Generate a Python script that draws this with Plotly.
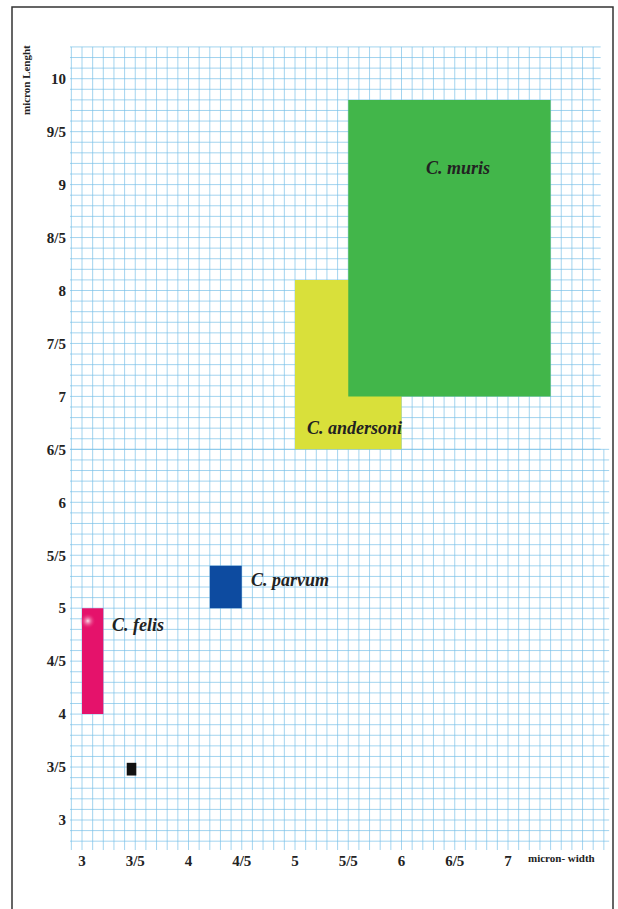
import numpy as np
import plotly.graph_objects as go

# ---------------- data ----------------
species = ["C. andersoni", "C. muris", "C. parvum", "C. felis", "unlabelled"]
width_min = [5.0, 5.5, 4.2, 3.0, 3.42]
width_max = [6.0, 7.4, 4.5, 3.2, 3.51]
length_min = [6.5, 7.0, 5.0, 4.0, 3.42]
length_max = [8.1, 9.8, 5.4, 5.0, 3.54]

x_tick_vals = [3, 3.5, 4, 4.5, 5, 5.5, 6, 6.5, 7]
x_tick_text = ["3", "3/5", "4", "4/5", "5", "5/5", "6", "6/5", "7"]
y_tick_vals = [3, 3.5, 4, 4.5, 5, 5.5, 6, 6.5, 7, 7.5, 8, 8.5, 9, 9.5, 10]
y_tick_text = ["3", "3/5", "4", "4/5", "5", "5/5", "6", "6/5", "7", "7/5",
               "8", "8/5", "9", "9/5", "10"]

# ---------------- styles ----------------
colors = {"C. andersoni": "#D9E03A", "C. muris": "#42B64A",
          "C. parvum": "#0D4BA0", "C. felis": "#E5126B", "unlabelled": "#111111"}
# label placement relative to each box: (anchor x, dx, anchor y, dy, xanchor)
label_place = {
    "C. muris": ("center", 0.08, "top", -0.64, "center"),
    "C. andersoni": ("x0", 0.09, "y0", 0.20, "left"),
    "C. parvum": ("x1", 0.07, "mid", 0.07, "left"),
    "C. felis": ("x1", 0.06, "y1", -0.16, "left"),
}

W, H = 618, 909
L, R, T, B = 70, 6, 40, 59
PXX, PXY = 106.5, 105.9          # pixels per micron
X3, Y3 = 82, 820                 # pixel position of value 3
pw, ph = W - L - R, H - T - B
x0 = 3 - (X3 - L) / PXX
x1 = x0 + pw / PXX
y1 = 3 + (Y3 - T) / PXY
y0 = y1 - ph / PXY

def paper_x(px):
    return (px - L) / pw

def paper_y(py):
    return 1 - (py - T) / ph

fig = go.Figure()

# ---------------- graph-paper grid ----------------
gx, gy = [], []
step = 0.1
split = 6.5
# upper sheet
for v in np.round(np.arange(split, 10.3 + 1e-9, step), 2):
    gx += [x0, 7.87, None]; gy += [v, v, None]
for u in np.round(np.arange(2.9, 7.8 + 1e-9, step), 2):
    gx += [u, u, None]; gy += [split, 10.3, None]
# lower sheet
for v in np.round(np.arange(2.8, split + 1e-9, step), 2):
    gx += [x0, 7.95, None]; gy += [v, v, None]
for u in np.round(np.arange(2.9, 7.9 + 1e-9, step), 2):
    gx += [u, u, None]; gy += [y0, split, None]
fig.add_trace(go.Scatter(x=gx, y=gy, mode="lines",
                         line=dict(color="rgba(120,192,232,0.68)", width=1),
                         hoverinfo="skip", showlegend=False))

# ---------------- boxes ----------------
for name, a, b, c, d in zip(species, width_min, width_max, length_min, length_max):
    fig.add_trace(go.Scatter(x=[a, b, b, a, a], y=[c, c, d, d, c], mode="lines",
                             fill="toself", fillcolor=colors[name],
                             line=dict(width=0, color=colors[name]),
                             showlegend=False, name=name))

# highlight glint on C. felis (radial: gradient.color is the centre colour)
fi = species.index("C. felis")
fig.add_trace(go.Scatter(x=[width_min[fi] + 0.055], y=[length_max[fi] - 0.12],
                         mode="markers",
                         marker=dict(size=16, color="rgba(229,18,107,0)",
                                     gradient=dict(type="radial", color="rgba(255,255,255,0.85)"),
                                     line=dict(width=0)),
                         showlegend=False, hoverinfo="skip"))

# ---------------- labels ----------------
for name, a, b, c, d in zip(species, width_min, width_max, length_min, length_max):
    if name not in label_place:
        continue
    ax, dx, ay, dy, xa = label_place[name]
    bx = {"center": (a + b) / 2, "x0": a, "x1": b}[ax] + dx
    by = {"top": d, "y0": c, "y1": d, "mid": (c + d) / 2}[ay] + dy
    fig.add_annotation(x=bx, y=by, xref="x", yref="y", text=name, showarrow=False,
                       xanchor=xa, yanchor="middle",
                       font=dict(family="Liberation Serif", size=18, color="#222222",
                                 weight="bold", style="italic"))

# axis titles
fig.add_annotation(x=paper_x(561), y=paper_y(858), xref="paper", yref="paper",
                   text="micron- width", showarrow=False, xanchor="center", yanchor="middle",
                   font=dict(family="Liberation Serif", size=11, color="#222222", weight="bold"))
fig.add_annotation(x=paper_x(26), y=paper_y(80), xref="paper", yref="paper",
                   text="micron Lenght", showarrow=False, textangle=-90,
                   xanchor="center", yanchor="middle",
                   font=dict(family="Liberation Serif", size=11, color="#222222", weight="bold"))

# outer frame
fig.add_shape(type="rect", xref="paper", yref="paper",
              x0=paper_x(12), x1=paper_x(613), y0=paper_y(930), y1=paper_y(7),
              line=dict(color="#333333", width=1.5), fillcolor="rgba(0,0,0,0)", layer="above")

tick_font = dict(family="Liberation Serif", size=15, color="#222222", weight="bold")
fig.update_layout(
    width=W, height=H,
    margin=dict(l=L, r=R, t=T, b=B),
    paper_bgcolor="white", plot_bgcolor="white",
    xaxis=dict(range=[x0, x1], showgrid=False, zeroline=False, showline=False,
               ticks="", tickvals=x_tick_vals, ticktext=x_tick_text, tickfont=tick_font,
               fixedrange=True),
    yaxis=dict(range=[y0, y1], showgrid=False, zeroline=False, showline=False,
               ticks="", tickvals=y_tick_vals, ticktext=y_tick_text, tickfont=tick_font,
               ticklabelstandoff=3, fixedrange=True),
)

fig.write_html("out.html", config={"displayModeBar": False},
               post_script="document.body.style.margin='0';document.body.style.overflow='hidden';")
